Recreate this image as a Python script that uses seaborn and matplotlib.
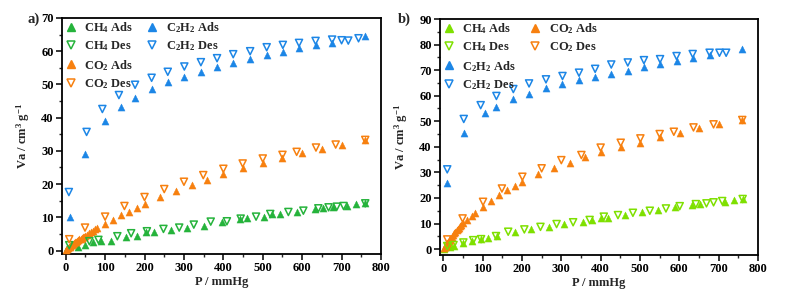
import numpy as np
import pandas as pd
import matplotlib
matplotlib.use("Agg")
import matplotlib.pyplot as plt
from matplotlib.lines import Line2D
from matplotlib.ticker import MultipleLocator
import seaborn as sns

# ---------------- Panel a data ----------------
a_c2h2_ads_x = [10, 50, 100, 140, 175, 220, 260, 300, 343, 385, 425, 468, 510, 551, 592, 634, 676, 760]
a_c2h2_ads_y = [10.2, 29, 38.9, 43.2, 46, 48.6, 50.8, 52.3, 53.6, 55.1, 56.4, 57.6, 58.9, 59.9, 60.9, 61.9, 62.5, 64.7]
a_c2h2_des_x = [8, 53, 93, 135, 176, 218, 259, 301, 343, 384, 425, 468, 510, 551, 592, 634, 676, 700, 717, 743]
a_c2h2_des_y = [17.6, 35.7, 42.6, 46.8, 49.9, 52, 53.8, 55.4, 56.7, 57.9, 59.1, 60, 61.2, 61.9, 62.5, 63.1, 63.5, 63.3, 63.2, 63.9]

a_co2_ads_x = [2, 4, 6, 8, 10, 12, 14, 16, 18, 20, 23, 26, 29, 32, 35, 38, 41, 44, 47, 50, 55, 60, 65, 70, 75, 80,
               100, 120, 140, 160, 180, 200, 239, 279, 320, 359, 400, 449, 500, 550, 600, 650, 701, 760]
a_co2_ads_y = [0.2, 0.45, 0.7, 0.95, 1.2, 1.4, 1.6, 1.8, 2.0, 2.2, 2.45, 2.7, 2.95, 3.2, 3.4, 3.6, 3.8, 4.0, 4.2, 4.4, 4.8, 5.2, 5.6, 6.0, 6.4, 6.8,
               8.0, 9.3, 10.6, 11.6, 12.7, 14.0, 16.0, 17.9, 19.7, 21.2, 23.1, 24.8, 26.4, 28.0, 29.4, 30.7, 31.9, 33.2]
a_co2_des_x = [9, 49, 100, 149, 200, 250, 300, 349, 400, 449, 500, 550, 586, 635, 685, 760]
a_co2_des_y = [3.4, 6.9, 10.2, 13.4, 16.1, 18.5, 20.7, 22.7, 24.6, 26.2, 27.7, 28.8, 29.7, 31.0, 31.9, 33.3]

a_ch4_ads_x = [3, 10, 30, 49, 68, 90, 114, 153, 180, 205, 225, 266, 307, 351, 396, 441, 460, 502, 523, 544, 586, 633, 654, 679, 713, 737, 760]
a_ch4_ads_y = [0.8, 1.3, 1.0, 1.65, 2.5, 2.9, 3.0, 4.0, 4.4, 5.6, 5.6, 6.1, 6.8, 7.5, 8.7, 9.4, 9.7, 10.2, 10.9, 10.9, 11.7, 12.4, 12.7, 13.2, 13.4, 14.0, 14.2]
a_ch4_des_x = [9, 60, 83, 131, 166, 206, 248, 288, 325, 368, 409, 444, 483, 519, 565, 603, 641, 667, 688, 705, 760]
a_ch4_des_y = [1.6, 2.8, 3.2, 4.3, 5.2, 5.8, 6.5, 6.9, 7.8, 8.7, 8.8, 9.6, 10.2, 11.0, 11.6, 12.0, 12.7, 13.0, 13.2, 13.4, 14.2]

# ---------------- Panel b data ----------------
b_c2h2_ads_x = [10, 52, 105, 133, 178, 219, 261, 303, 345, 386, 427, 469, 511, 552, 594, 635, 677, 760]
b_c2h2_ads_y = [26, 45.5, 53.2, 55.7, 58.7, 60.8, 62.9, 64.6, 66, 67.4, 68.6, 69.8, 71.1, 72.4, 73.6, 74.6, 75.9, 78.1]
b_c2h2_des_x = [10, 52, 95, 135, 178, 218, 261, 303, 345, 386, 427, 469, 510, 551, 593, 634, 677, 702, 719]
b_c2h2_des_y = [31.2, 50.9, 56.3, 59.9, 62.6, 64.8, 66.4, 67.7, 69, 70.5, 72.2, 73, 73.9, 74.3, 75.5, 76.3, 76.8, 76.8, 76.8]

b_co2_ads_x = [2, 4, 6, 8, 10, 12, 14, 16, 18, 20, 22, 25, 28, 31, 34, 37, 40, 43, 46, 50, 59, 72, 80,
               101, 120, 141, 162, 182, 201, 241, 282, 321, 361, 400, 451, 501, 550, 601, 651, 700, 760]
b_co2_ads_y = [0.4, 0.8, 1.2, 1.6, 2.3, 2.8, 3.3, 3.7, 4.1, 4.5, 4.9, 5.6, 6.2, 6.8, 7.4, 7.9, 8.4, 8.9, 9.4, 10.2, 11.3, 12.9, 14.2,
               16.6, 18.9, 21.0, 23.1, 24.6, 26.1, 29.3, 31.6, 33.8, 36.1, 38.0, 39.8, 41.6, 43.7, 45.5, 47.2, 48.8, 50.5]
b_co2_des_x = [10, 49, 101, 149, 201, 250, 300, 351, 400, 451, 501, 550, 586, 636, 687, 760]
b_co2_des_y = [3.8, 12.0, 18.5, 23.7, 28.3, 31.6, 34.8, 36.8, 39.7, 41.6, 43.3, 45.0, 45.9, 47.6, 48.8, 50.5]

b_ch4_ads_x = [1, 4, 17, 26, 51, 72, 97, 114, 136, 182, 224, 269, 306, 355, 377, 402, 419, 461, 504, 546, 588, 631, 652, 715, 738, 761]
b_ch4_ads_y = [0.2, 0.65, 0.9, 1.2, 2.4, 3.2, 4.0, 4.2, 5.1, 6.8, 7.8, 8.7, 9.8, 10.8, 11.4, 12.0, 12.3, 13.3, 14.4, 15.3, 16.3, 17.2, 17.6, 18.5, 19.2, 19.6]
b_ch4_des_x = [10, 26, 51, 76, 96, 134, 165, 206, 247, 288, 330, 372, 408, 444, 482, 525, 566, 601, 642, 669, 687, 709, 761]
b_ch4_des_y = [1.2, 1.6, 2.6, 3.5, 3.9, 5.1, 6.8, 7.7, 8.7, 9.8, 10.5, 11.4, 12.7, 13.3, 14.2, 15.0, 15.9, 16.8, 17.6, 17.9, 18.3, 18.8, 19.6]

x_ticks = [0, 100, 200, 300, 400, 500, 600, 700, 800]

GREEN_A = "#25b33b"
GREEN_B = "#7ee000"
BLUE = "#1c86e6"
ORANGE = "#f7800f"

sns.set_theme(style="ticks")
plt.rcParams["font.family"] = ["Liberation Serif", "DejaVu Serif"]
plt.rcParams["font.weight"] = "bold"
plt.rcParams["mathtext.fontset"] = "custom"
plt.rcParams["mathtext.rm"] = "Liberation Serif:bold"
plt.rcParams["mathtext.it"] = "Liberation Serif:bold:italic"
plt.rcParams["mathtext.bf"] = "Liberation Serif:bold"

fig = plt.figure(figsize=(7.88, 2.98), dpi=100)
ax_a = fig.add_axes([62 / 788, 44 / 298, 319 / 788, 236 / 298])
ax_b = fig.add_axes([440 / 788, 43 / 298, 318 / 788, 236 / 298])

MS = 26
LW = 1.1
FS = 9


def draw(ax, x, y, color, filled):
    df = pd.DataFrame({"P": x, "V": y})
    if filled:
        sns.scatterplot(data=df, x="P", y="V", ax=ax, marker="^", s=MS,
                        color=color, edgecolor=color, linewidth=0.3, zorder=3)
    else:
        sns.scatterplot(data=df, x="P", y="V", ax=ax, marker="v", s=MS,
                        facecolor="none", edgecolor=color, linewidth=LW, zorder=4)


# panel a
draw(ax_a, a_ch4_ads_x, a_ch4_ads_y, GREEN_A, True)
draw(ax_a, a_ch4_des_x, a_ch4_des_y, GREEN_A, False)
draw(ax_a, a_co2_ads_x, a_co2_ads_y, ORANGE, True)
draw(ax_a, a_co2_des_x, a_co2_des_y, ORANGE, False)
draw(ax_a, a_c2h2_ads_x, a_c2h2_ads_y, BLUE, True)
draw(ax_a, a_c2h2_des_x, a_c2h2_des_y, BLUE, False)

# panel b
draw(ax_b, b_ch4_ads_x, b_ch4_ads_y, GREEN_B, True)
draw(ax_b, b_ch4_des_x, b_ch4_des_y, GREEN_B, False)
draw(ax_b, b_co2_ads_x, b_co2_ads_y, ORANGE, True)
draw(ax_b, b_co2_des_x, b_co2_des_y, ORANGE, False)
draw(ax_b, b_c2h2_ads_x, b_c2h2_ads_y, BLUE, True)
draw(ax_b, b_c2h2_des_x, b_c2h2_des_y, BLUE, False)

ax_a.set_xlim(-9.4, 800)
ax_a.set_ylim(-1.05, 70)
ax_b.set_xlim(-8.4, 800)
ax_b.set_ylim(-2.3, 90)


def style(ax):
    ax.set_xticks(x_ticks)
    ax.xaxis.set_minor_locator(MultipleLocator(50))
    ax.yaxis.set_major_locator(MultipleLocator(10))
    ax.yaxis.set_minor_locator(MultipleLocator(5))
    for sp in ax.spines.values():
        sp.set_linewidth(1.3)
        sp.set_color("black")
        sp.set_visible(True)
    ax.tick_params(which="major", direction="out", length=4, width=1.1, labelsize=FS,
                   pad=2, top=False, right=False, colors="black")
    ax.tick_params(which="minor", direction="out", length=2, width=1.0, top=False, right=False)
    for lbl in ax.get_xticklabels() + ax.get_yticklabels():
        lbl.set_fontweight("bold")
    ax.set_xlabel("P / mmHg", fontsize=FS, fontweight="bold", labelpad=1)
    ax.set_ylabel("Va / cm$^{3}$ g$^{-1}$", fontsize=FS, fontweight="bold")
    ax.yaxis.set_label_coords(-0.094, 0.5)
    ax.set_facecolor("white")


style(ax_a)
style(ax_b)


def h(color, filled):
    if filled:
        return Line2D([], [], linestyle="", marker="^", markersize=5.5, color=color,
                      markeredgecolor=color)
    return Line2D([], [], linestyle="", marker="v", markersize=5.5, markerfacecolor="none",
                  markeredgecolor=color, markeredgewidth=LW)


blank = Line2D([], [], linestyle="", marker="")

leg_kw = dict(loc="upper left", frameon=False, ncol=2, handlelength=1.0,
              handletextpad=0.6, columnspacing=1.0, labelspacing=0.35, borderaxespad=0.1,
              borderpad=0.1, prop={"weight": "bold", "size": FS})

ax_a.legend(handles=[h(GREEN_A, True), h(GREEN_A, False), h(ORANGE, True), h(ORANGE, False),
                     h(BLUE, True), h(BLUE, False), blank, blank],
            labels=["CH$_4$ Ads", "CH$_4$ Des", "CO$_2$ Ads", "CO$_2$ Des",
                    "C$_2$H$_2$ Ads", "C$_2$H$_2$ Des", "", ""], **leg_kw)
ax_b.legend(handles=[h(GREEN_B, True), h(GREEN_B, False), h(BLUE, True), h(BLUE, False),
                     h(ORANGE, True), h(ORANGE, False), blank, blank],
            labels=["CH$_4$ Ads", "CH$_4$ Des", "C$_2$H$_2$ Ads", "C$_2$H$_2$ Des",
                    "CO$_2$ Ads", "CO$_2$ Des", "", ""], **leg_kw)

fig.text(27 / 788, 1 - 19 / 298, "a)", fontsize=10.5, fontweight="bold", va="center", ha="left")
fig.text(398 / 788, 1 - 19 / 298, "b)", fontsize=10.5, fontweight="bold", va="center", ha="left")

fig.savefig("out.png", dpi=100, facecolor="white")
